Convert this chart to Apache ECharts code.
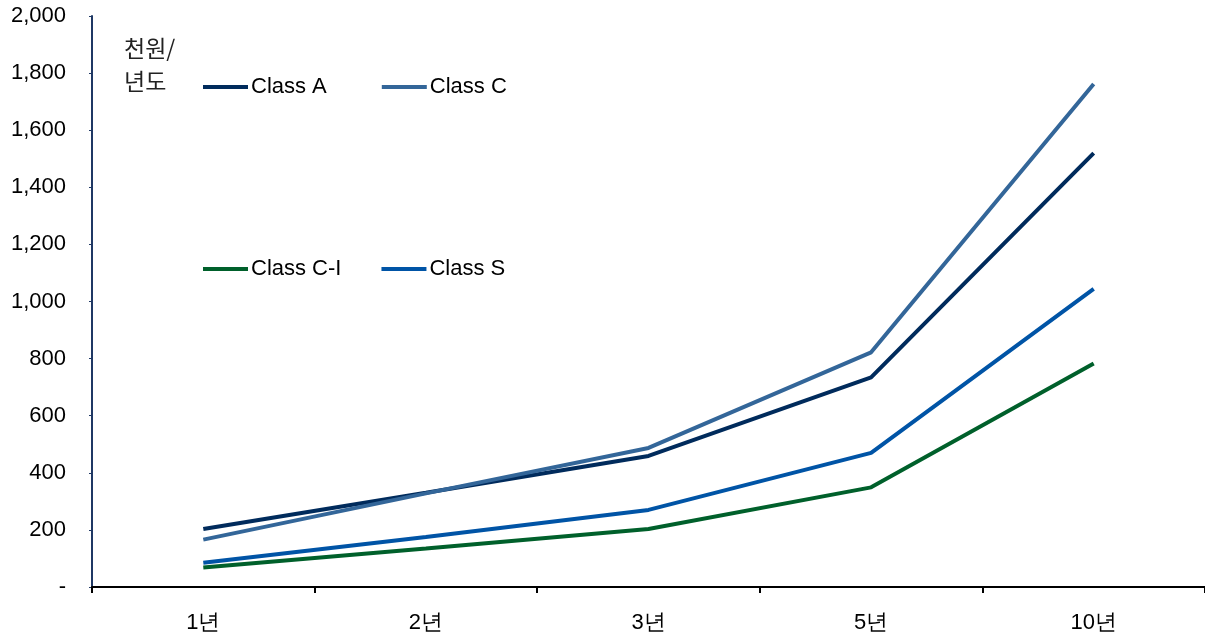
<!DOCTYPE html>
<html>
<head>
<meta charset="utf-8">
<script src="https://cdn.jsdelivr.net/npm/echarts@6/dist/echarts.min.js"></script>
<style>html,body{margin:0;padding:0;background:#fff;}#c{width:1205px;height:637px;}</style>
</head>
<body>
<div id="c"></div>
<script>
const categories = ['1년', '2년', '3년', '5년', '10년'];
const classA  = [203, 330, 459, 734, 1520];
const classC  = [166, 328, 487, 822, 1762];
const classCI = [68, 135, 203, 349, 783];
const classS  = [85, 175, 270, 470, 1044];
const yTicks = { min: 0, max: 2000, interval: 200 };
const unitLabel = '천원/\n년도';

const colors = { A: '#002B5C', C: '#336699', CI: '#00602B', S: '#0054A6' };
const font = '"Liberation Sans", Arial, sans-serif';

const chart = echarts.init(document.getElementById('c'));
function mk(name, data, color) {
  return { name, type: 'line', data, symbol: 'none', lineStyle: { width: 4, color }, itemStyle: { color }, z: 2 };
}
chart.setOption({
  animation: false,
  grid: { left: 92, right: 0, top: 16, bottom: 50, containLabel: false },
  legend: [
    { left: 203, top: 76, padding: 0, data: ['Class A', 'Class C'], icon: 'rect', itemWidth: 45, itemHeight: 4, itemGap: 55,
      textStyle: { fontFamily: font, fontSize: 22, color: '#000', padding: [0, 0, 0, -2] } },
    { left: 203, top: 258, padding: 0, data: ['Class C-I', 'Class S'], icon: 'rect', itemWidth: 45, itemHeight: 4, itemGap: 40,
      textStyle: { fontFamily: font, fontSize: 22, color: '#000', padding: [0, 0, 0, -2] } }
  ],
  graphic: [{ type: 'text', left: 124, top: 32, style: { text: unitLabel, fontFamily: '"Noto Sans CJK KR", sans-serif', fontSize: 23, lineHeight: 33, fill: '#222' } }],
  xAxis: {
    type: 'category', data: categories, boundaryGap: true,
    axisLine: { lineStyle: { color: '#000', width: 2 } },
    axisTick: { show: true, length: 6, lineStyle: { color: '#000', width: 2 } },
    axisLabel: { fontFamily: font, fontSize: 22, color: '#000', margin: 25 }
  },
  yAxis: {
    type: 'value', min: yTicks.min, max: yTicks.max, interval: yTicks.interval,
    axisLine: { show: true, lineStyle: { color: '#1F3864', width: 2 } },
    axisTick: { show: true, length: 3, lineStyle: { color: '#1F3864' } },
    splitLine: { show: false },
    axisLabel: { fontFamily: font, fontSize: 22, color: '#000', margin: 26,
      formatter: v => v === 0 ? '-' : v.toLocaleString('en-US') }
  },
  series: [
    mk('Class A', classA, colors.A),
    mk('Class C', classC, colors.C),
    mk('Class C-I', classCI, colors.CI),
    mk('Class S', classS, colors.S)
  ]
});
</script>
</body>
</html>
